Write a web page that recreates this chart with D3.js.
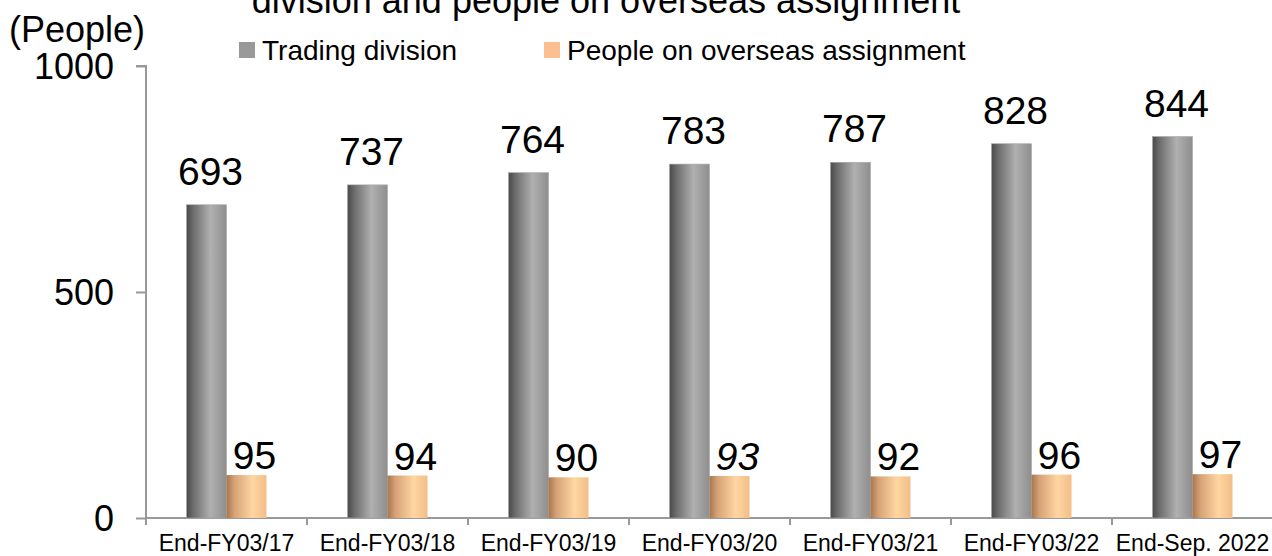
<!DOCTYPE html>
<html>
<head>
<meta charset="utf-8">
<script src="https://cdn.jsdelivr.net/npm/d3@7"></script>
<style>
  html, body { margin: 0; padding: 0; background: #fff; }
  svg { display: block; font-family: "Liberation Sans", Arial, sans-serif; }
</style>
</head>
<body>
<svg id="chart" width="1272" height="556"></svg>
<script>
// chart data
const categories = ["End-FY03/17", "End-FY03/18", "End-FY03/19", "End-FY03/20", "End-FY03/21", "End-FY03/22", "End-Sep. 2022"];
const tradingDivision = [693, 737, 764, 783, 787, 828, 844];
const overseasAssignment = [95, 94, 90, 93, 92, 96, 97];
const seriesNames = ["Trading division", "People on overseas assignment"];
const yTicks = [0, 500, 1000];

(function() {
    const svg = d3.select("#chart");

    const x = d3.scaleBand()
        .domain(categories)
        .range([146, 1273])
        .padding(0);

    // two bars of 40px side by side, centred in each category
    const xSeries = d3.scaleBand()
        .domain([0, 1])
        .range([x.bandwidth() / 2 - 40, x.bandwidth() / 2 + 40]);

    const y = d3.scaleLinear()
        .domain([0, 1000])
        .range([518, 66]);

    // gradients for the cylinder-ish bars
    const defs = svg.append("defs");
    const grayGrad = defs.append("linearGradient").attr("id", "grayGrad");
    [["0%", "#4a4a4a"], ["18%", "#6e6e6e"], ["60%", "#b0b0b0"], ["100%", "#8e8e8e"]]
        .forEach(s => grayGrad.append("stop").attr("offset", s[0]).attr("stop-color", s[1]));
    const orangeGrad = defs.append("linearGradient").attr("id", "orangeGrad");
    [["0%", "#a8774f"], ["20%", "#d6a277"], ["65%", "#ffd6a1"], ["100%", "#f2bd88"]]
        .forEach(s => orangeGrad.append("stop").attr("offset", s[0]).attr("stop-color", s[1]));

    // title (second line, cut at top)
    svg.append("text")
        .attr("x", 606)
        .attr("y", 13)
        .attr("text-anchor", "middle")
        .attr("font-size", 36)
        .text("division and people on overseas assignment");

    // unit label
    svg.append("text")
        .attr("x", 77)
        .attr("y", 42)
        .attr("text-anchor", "middle")
        .attr("font-size", 36)
        .text("(People)");

    // legend
    const legendColors = ["#999999", "#fac090"];
    const legendX = [239, 544];
    seriesNames.forEach((name, i) => {
        svg.append("rect")
            .attr("x", legendX[i])
            .attr("y", 42)
            .attr("width", 16)
            .attr("height", 16)
            .attr("fill", legendColors[i]);
        svg.append("text")
            .attr("x", legendX[i] + 23)
            .attr("y", 60)
            .attr("font-size", 28)
            .text(name);
    });

    // y axis
    const yAxis = d3.axisLeft(y)
        .tickValues(yTicks)
        .tickFormat(d3.format("d"))
        .tickSize(10)
        .tickPadding(22);
    const gy = svg.append("g")
        .attr("transform", "translate(146,0)")
        .call(yAxis);
    gy.select(".domain").attr("stroke", "#999").attr("stroke-width", 2)
        .attr("d", `M-10,${y(1000)}H0V${y(0) + 7}`);
    gy.selectAll(".tick line").attr("stroke", "#999").attr("stroke-width", 2);
    gy.selectAll(".tick text")
        .attr("font-size", 36)
        .attr("font-family", "Liberation Sans, Arial, sans-serif")
        .attr("fill", "#000")
        .attr("dy", "0.36em");

    // x axis
    const gx = svg.append("g")
        .attr("transform", `translate(0,${y(0)})`);
    gx.append("line")
        .attr("x1", 146).attr("x2", 1273)
        .attr("stroke", "#999").attr("stroke-width", 2);
    gx.selectAll(".xtick")
        .data(categories)
        .enter().append("line")
        .attr("class", "xtick")
        .attr("x1", d => x(d) + x.bandwidth())
        .attr("x2", d => x(d) + x.bandwidth())
        .attr("y1", 0).attr("y2", 7)
        .attr("stroke", "#999").attr("stroke-width", 2);
    gx.selectAll(".xlabel")
        .data(categories)
        .enter().append("text")
        .attr("class", "xlabel")
        .attr("x", d => x(d) + x.bandwidth() / 2)
        .attr("y", 33)
        .attr("text-anchor", "middle")
        .attr("font-size", 23)
        .text(d => d);

    // bars
    const groups = svg.selectAll(".cat")
        .data(categories)
        .enter().append("g")
        .attr("class", "cat")
        .attr("transform", d => `translate(${x(d)},0)`);

    groups.append("rect")
        .attr("x", xSeries(0))
        .attr("width", xSeries.bandwidth())
        .attr("y", (d, i) => y(tradingDivision[i]))
        .attr("height", (d, i) => y(0) - y(tradingDivision[i]))
        .attr("fill", "url(#grayGrad)")
        .attr("stroke", "#a8a8a8")
        .attr("stroke-width", 0.6);

    groups.append("rect")
        .attr("x", xSeries(1))
        .attr("width", xSeries.bandwidth())
        .attr("y", (d, i) => y(overseasAssignment[i]))
        .attr("height", (d, i) => y(0) - y(overseasAssignment[i]))
        .attr("fill", "url(#orangeGrad)");

    // value labels
    groups.append("text")
        .attr("x", xSeries(0) + xSeries.bandwidth() / 2 + 4)
        .attr("y", (d, i) => y(tradingDivision[i]) - 20)
        .attr("text-anchor", "middle")
        .attr("font-size", 39)
        .text((d, i) => tradingDivision[i]);

    groups.append("text")
        .attr("x", xSeries(1) + xSeries.bandwidth() / 2 + 8)
        .attr("y", (d, i) => y(overseasAssignment[i]) - 6)
        .attr("text-anchor", "middle")
        .attr("font-size", 39)
        .style("font-style", (d, i) => i === 3 ? "italic" : null)
        .text((d, i) => overseasAssignment[i]);
})();
</script>
</body>
</html>
